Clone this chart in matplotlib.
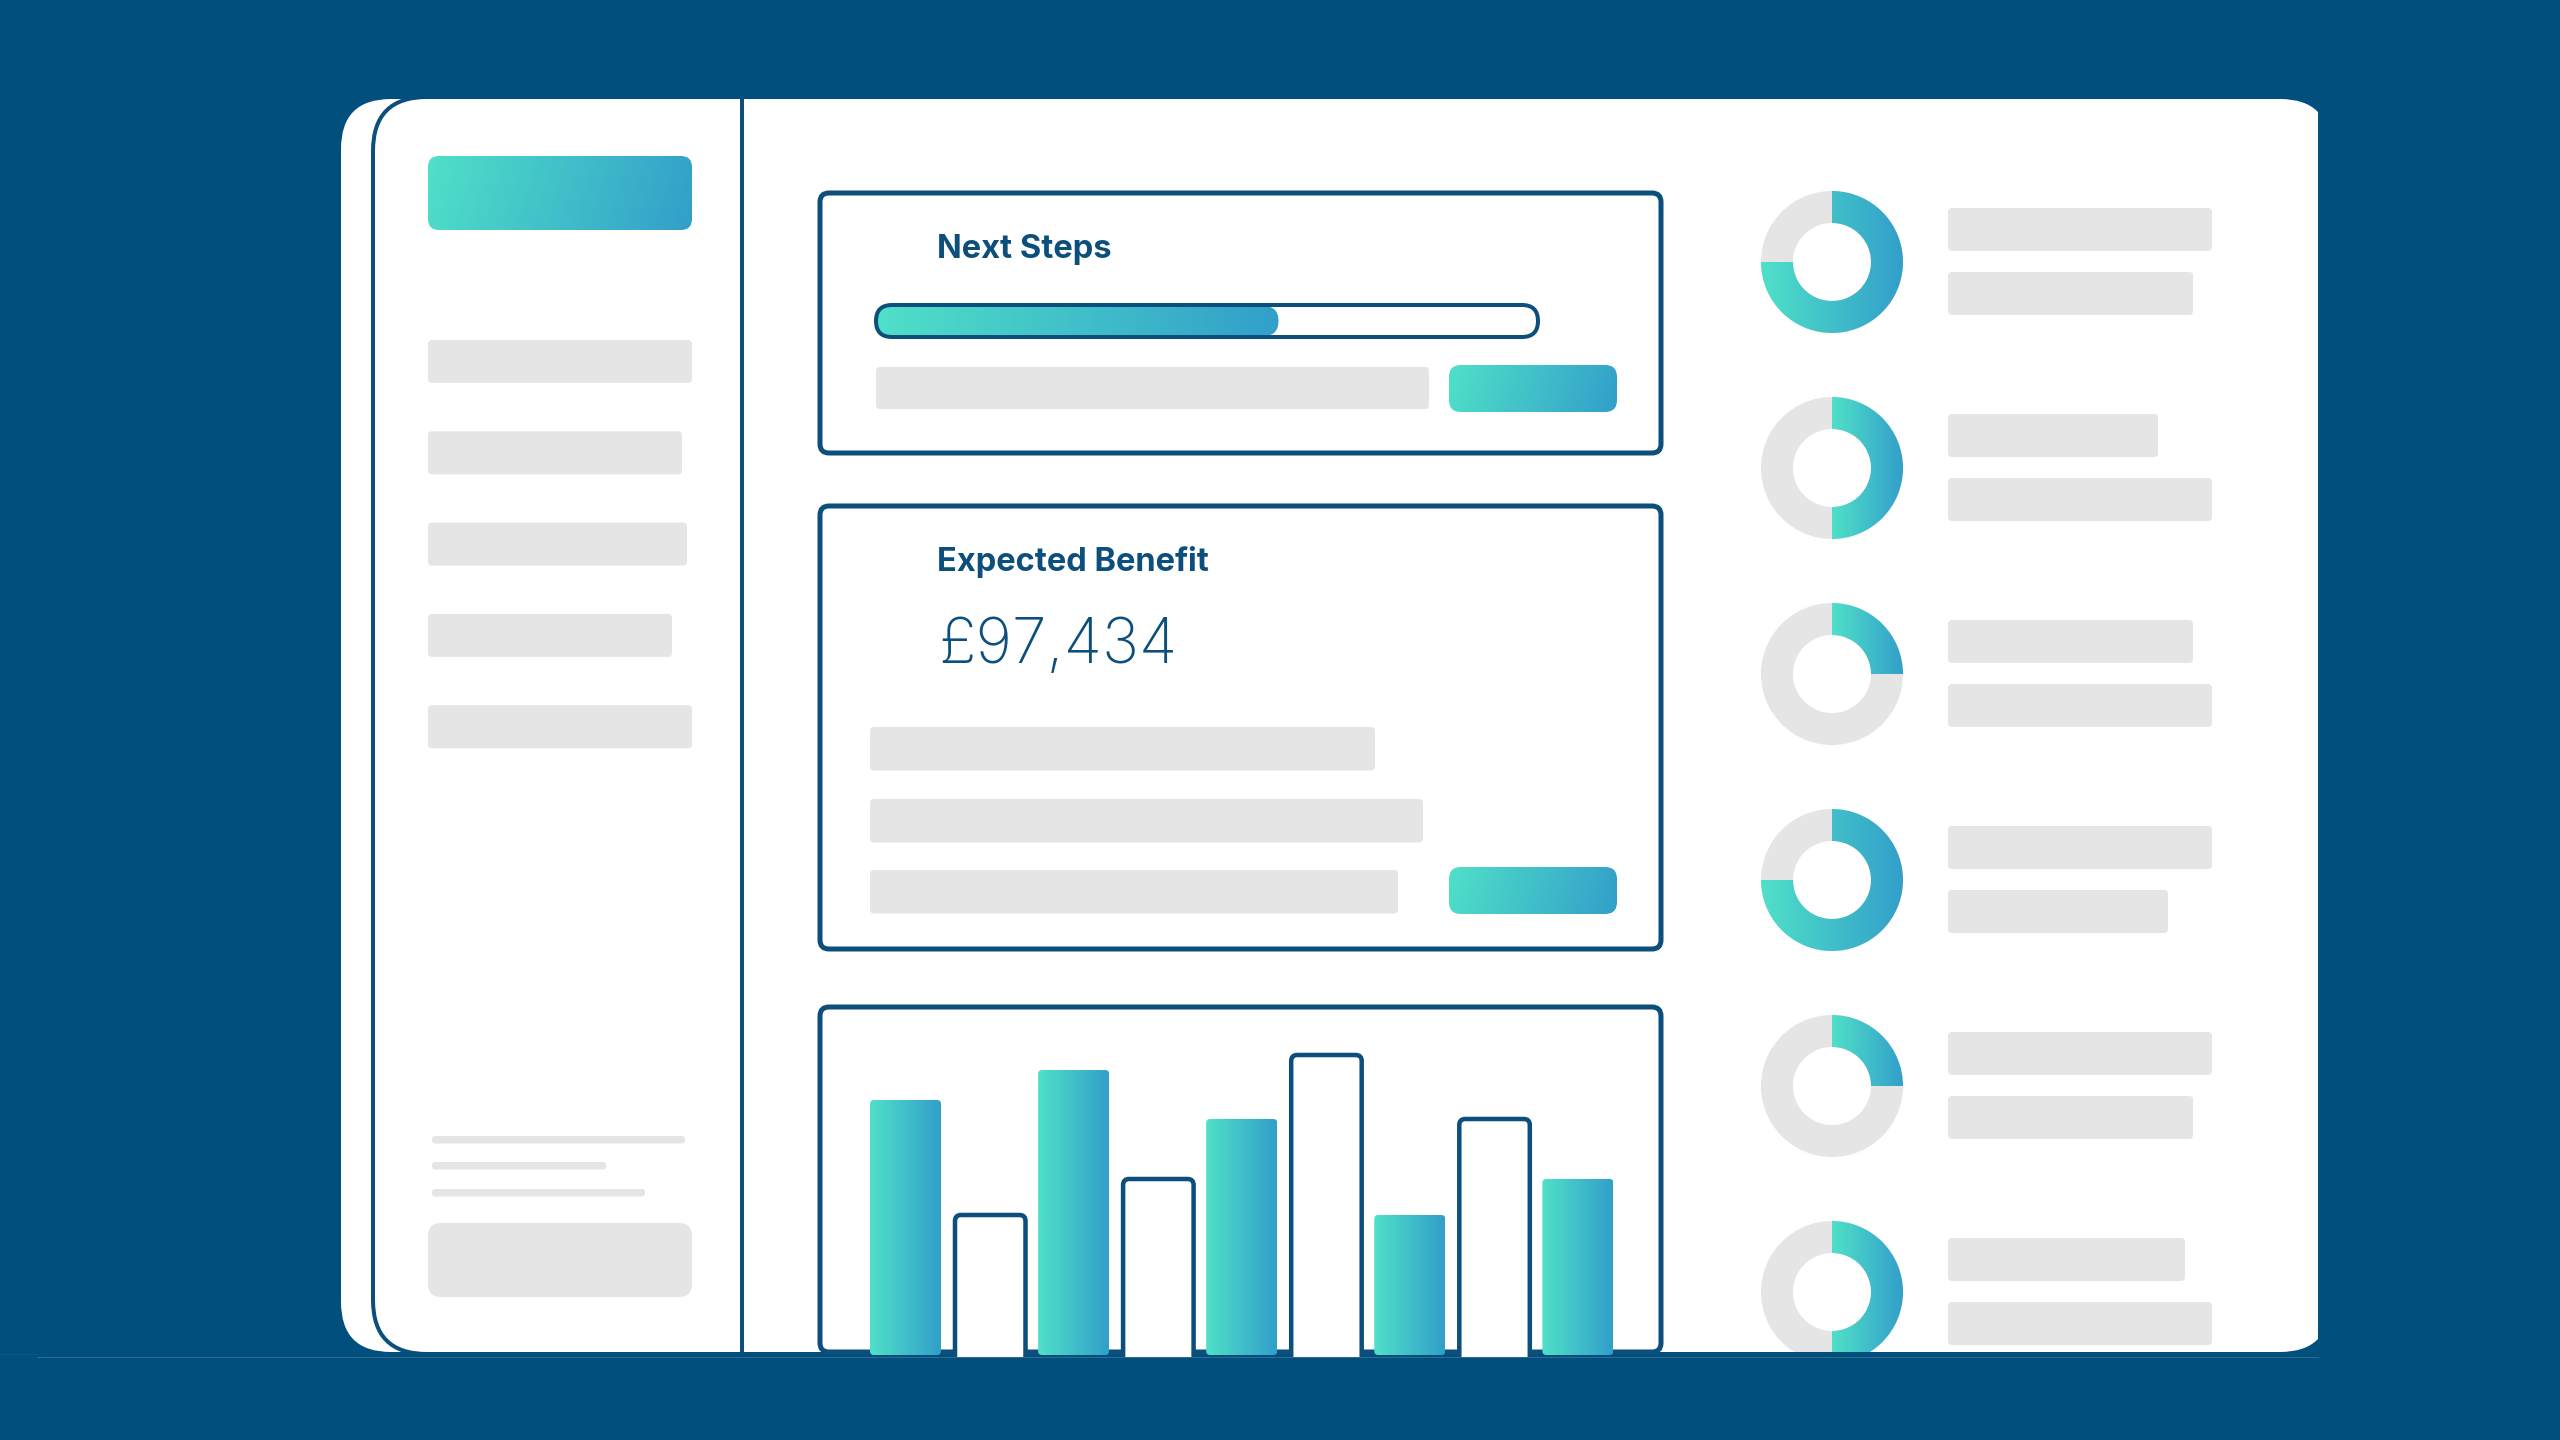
import matplotlib
matplotlib.use("Agg")
import matplotlib.pyplot as plt
import numpy as np
from matplotlib.colors import LinearSegmentedColormap
from matplotlib.patches import FancyBboxPatch, Rectangle, Wedge

# dashboard values (pixel lengths of the placeholders)
title_top = "Next Steps"
title_mid = "Expected Benefit"
benefit_text = "£97,434"
progress_share = 0.608

sidebar_widths = [264, 254, 259, 244, 264]
footer_widths = [253, 174, 213]
benefit_row_widths = [505, 553, 528]
filled_bar_heights = [254, 284, 235, 139, 175]
outline_bar_heights = [139, 175, 299, 235]
donut_shares = [0.75, 0.5, 0.25, 0.75, 0.25, 0.5]
donut_row_widths = [(264, 245), (210, 264), (245, 264), (264, 220), (264, 245), (237, 264)]

# colours
navy = "#014f7c"
stroke = "#0d4f7c"
rule = "#34698f"
grey = "#e5e5e5"
ramp = LinearSegmentedColormap.from_list("ramp", ["#50e0c8", "#329fca"])

fig = plt.figure(figsize=(25.6, 14.4), dpi=100, facecolor=navy)
ax = fig.add_axes([0, 0, 1, 1])
ax.set_xlim(0, 2560)
ax.set_ylim(1440, 0)
ax.axis("off")

px = 0.72  # one pixel in points


def round_box(x0, y0, x1, y1, r, face="none", edge="none", lw=0.0, z=2):
    box = FancyBboxPatch((x0, y0), x1 - x0, y1 - y0,
                         boxstyle="round,pad=0,rounding_size=%g" % r,
                         facecolor=face, edgecolor=edge, linewidth=lw * px, zorder=z)
    ax.add_patch(box)
    return box


def gradient(x0, y0, x1, y1, clip, z=3, tilt=0.0):
    t = np.linspace(0, 1, 256)[None, :] + tilt * np.linspace(0, 1, 32)[:, None]
    im = ax.imshow(t, cmap=ramp, vmin=0, vmax=1 + tilt, extent=(x0, x1, y1, y0),
                   aspect="auto", zorder=z, interpolation="bilinear")
    im.set_clip_path(clip)
    return im


def gradient_box(x0, y0, x1, y1, r, z=3, tilt=0.08):
    box = round_box(x0, y0, x1, y1, r, face="none", z=z)
    gradient(x0, y0, x1, y1, box, z=z, tilt=tilt)


# card
clip_right = Rectangle((0, 0), 2318, 1352, transform=ax.transData)
card = round_box(341, 99, 2330, 1352, 50, face="white", z=1)
card.set_clip_path(clip_right)
frame = round_box(373, 97, 900, 1354, 54, edge=stroke, lw=4, z=2)
frame.set_clip_path(Rectangle((0, 99), 741, 1253, transform=ax.transData))
ax.plot([742, 742], [99, 1352], color=stroke, lw=4 * px, solid_capstyle="butt", zorder=2)

# sidebar
gradient_box(428, 156, 692, 230, 11)
for i, w in enumerate(sidebar_widths):
    y = 340 + i * 91.3
    round_box(428, y, 428 + w, y + 43, 4, face=grey)
for w, y in zip(footer_widths, [1136, 1162, 1189]):
    round_box(432, y, 432 + w, y + 7.5, 3.5, face=grey)
round_box(428, 1223, 692, 1297, 13, face=grey)

# next steps panel
round_box(820, 193, 1661, 453, 9, face="white", edge=stroke, lw=5)
ax.text(937, 258, title_top, fontsize=23.5, fontweight="bold", family="Inter", color=stroke, va="baseline", zorder=4)
bar_x0, bar_x1 = 876, 1538
round_box(bar_x0, 305, bar_x1, 337, 16, face="white", z=2)
gradient_box(bar_x0 - 1, 306, bar_x0 + (bar_x1 - bar_x0) * progress_share, 336, 15, z=3, tilt=0.0)
round_box(bar_x0, 305, bar_x1, 337, 16, edge=stroke, lw=4, z=4)
round_box(876, 367, 1429, 409, 4, face=grey)
gradient_box(1449, 365, 1617, 412, 12)

# expected benefit panel
round_box(820, 506, 1661, 949, 9, face="white", edge=stroke, lw=5)
ax.text(937, 571, title_mid, fontsize=23.5, fontweight="bold", family="Inter", color=stroke, va="baseline", zorder=4)
ax.text(938, 663, benefit_text, fontsize=45, fontweight="light", family="Inter", color=stroke, va="baseline", zorder=4)
for w, y in zip(benefit_row_widths, [727, 799, 870]):
    round_box(870, y, 870 + w, y + 43.5, 4, face=grey)
gradient_box(1449, 867, 1617, 914, 12)

# bar panel
round_box(820, 1007, 1661, 1352, 9, face="white", edge=stroke, lw=5)
base = 1354
for i, h in enumerate(filled_bar_heights):
    x = 870 + i * 168.1
    gradient_box(x, base - h, x + 71, base + 1, 4, tilt=0.0)
for i, h in enumerate(outline_bar_heights):
    x = 955 + i * 168.1
    round_box(x, base - h, x + 70.5, base + 12, 6, face="white", edge=stroke, lw=4.5, z=3)
ax.add_patch(Rectangle((0, 1356.5), 2560, 30, facecolor=navy, edgecolor="none", zorder=3.5))

# donuts with the two placeholder rows
for i, (share, (w1, w2)) in enumerate(zip(donut_shares, donut_row_widths)):
    cx, cy = 1832, 262 + i * 206
    bg = Wedge((cx, cy), 71, 0, 360, width=32, facecolor=grey, edgecolor="none", zorder=2)
    ax.add_patch(bg)
    bg.set_clip_path(clip_right)
    ring = Wedge((cx, cy), 71, -90, -90 + 360 * share, width=32, facecolor="none", edgecolor="none", zorder=3)
    ax.add_patch(ring)
    left = cx - 71 if share > 0.5 else cx
    gradient(left, cy - 71, cx + 71, cy + 71, ring)
    if cy + 71 > 1352:
        # last donut runs under the card edge
        ax.add_patch(Rectangle((cx - 80, 1352), 160, 30, facecolor=navy, edgecolor="none", zorder=3.2))
    y1, y2 = cy - 54, cy + 10
    round_box(1948, y1, 1948 + w1, y1 + 43, 4, face=grey)
    round_box(1948, y2, 1948 + w2, y2 + 43, 4, face=grey)

# thin rule under the card
ax.plot([37, 2318], [1356.5, 1356.5], color=rule, lw=1 * px, zorder=5)
ax.plot([0, 37], [1354, 1354], color="#256590", lw=1 * px, ls=":", zorder=5)

ax.set_xlim(0, 2560)
ax.set_ylim(1440, 0)
fig.savefig("out.png", dpi=100, facecolor=navy)
